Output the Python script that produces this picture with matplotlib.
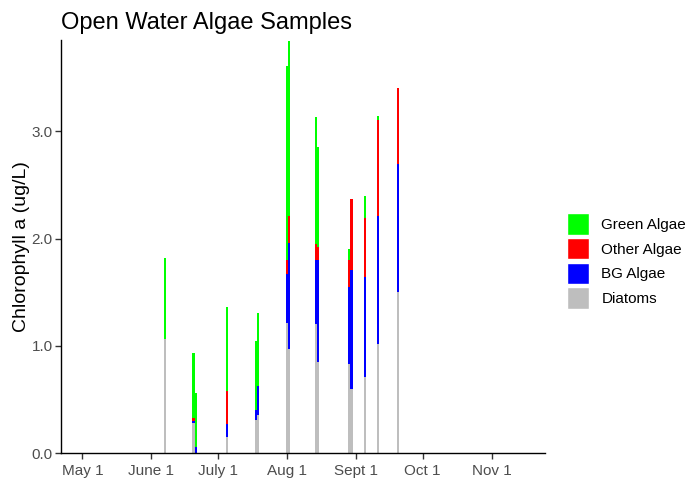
#!/usr/bin/env python

import numpy as np
import pandas as pd
import matplotlib
matplotlib.use("Agg")
import matplotlib.pyplot as plt
import matplotlib.dates as mdates
from matplotlib.patches import Patch

plt.rcParams['font.family'] = ['Liberation Sans', 'DejaVu Sans']

# sample dates and chlorophyll a by algae group (ug/L)
dates = ["2019-06-07", "2019-06-20", "2019-06-21", "2019-07-05", "2019-07-18",
         "2019-07-19", "2019-08-01", "2019-08-02", "2019-08-14", "2019-08-15",
         "2019-08-29", "2019-08-30", "2019-09-05", "2019-09-11", "2019-09-20"]
diatoms = [1.06, 0.28, 0.00, 0.15, 0.31, 0.36, 1.21, 0.97, 1.20, 0.85, 0.83, 0.60, 0.71, 1.02, 1.50]
bg_algae = [0.00, 0.02, 0.06, 0.12, 0.09, 0.27, 0.46, 0.99, 0.60, 0.95, 0.72, 1.11, 0.93, 1.19, 1.20]
other_algae = [0.00, 0.03, 0.00, 0.31, 0.00, 0.00, 0.13, 0.25, 0.15, 0.12, 0.25, 0.66, 0.55, 0.90, 0.70]
green_algae = [0.76, 0.60, 0.50, 0.78, 0.65, 0.68, 1.81, 1.63, 1.18, 0.93, 0.10, 0.00, 0.21, 0.03, 0.00]

tick_dates = ["2019-05-01", "2019-06-01", "2019-07-01", "2019-08-01",
              "2019-09-01", "2019-10-01", "2019-11-01"]
tick_labels = ["May 1", "June 1", "July 1", "Aug 1", "Sept 1", "Oct 1", "Nov 1"]

groups = [("Diatoms", diatoms, "#BEBEBE"),
          ("BG Algae", bg_algae, "#0000FF"),
          ("Other Algae", other_algae, "#FF0000"),
          ("Green Algae", green_algae, "#00FF00")]

x = mdates.date2num(pd.to_datetime(dates))

fig = plt.figure(figsize=(6.88, 4.78), dpi=100)
ax = fig.add_axes([0.0887, 0.052, 0.7035, 0.864])

bottom = np.zeros(len(x))
for name, vals, col in groups:
    vals = np.array(vals)
    ax.bar(x, vals, width=1.0, bottom=bottom, color=col, linewidth=0)
    bottom += vals

ax.set_xlim(mdates.date2num(pd.Timestamp("2019-04-21 10:00")),
            mdates.date2num(pd.Timestamp("2019-11-25")))
ax.set_ylim(0, 3.85)
ax.set_xticks(mdates.date2num(pd.to_datetime(tick_dates)))
ax.set_xticklabels(tick_labels)
ax.set_yticks([0, 1, 2, 3])
ax.set_yticklabels(["0.0", "1.0", "2.0", "3.0"])

for s in ["top", "right"]:
    ax.spines[s].set_visible(False)
for s in ["left", "bottom"]:
    ax.spines[s].set_color("black")
    ax.spines[s].set_linewidth(1.0)
ax.tick_params(axis="both", colors="#333333", labelcolor="#4D4D4D",
               labelsize=11, length=4, width=1)
ax.tick_params(axis="y", pad=2)

ax.set_ylabel("Chlorophyll a (ug/L)", fontsize=14, color="black", labelpad=1)
fig.text(0.0887, 0.951, "Open Water Algae Samples", fontsize=17,
         ha="left", va="center")

handles = [Patch(facecolor=c, edgecolor="white", label=n) for n, _, c in reversed(groups)]
fig.legend(handles=handles, loc="center left", bbox_to_anchor=(0.8135, 0.454),
           frameon=False, fontsize=11, handlelength=1.45, handleheight=1.8,
           handletextpad=0.78, labelspacing=0.2, borderpad=0)

fig.savefig("out.png", dpi=100)
